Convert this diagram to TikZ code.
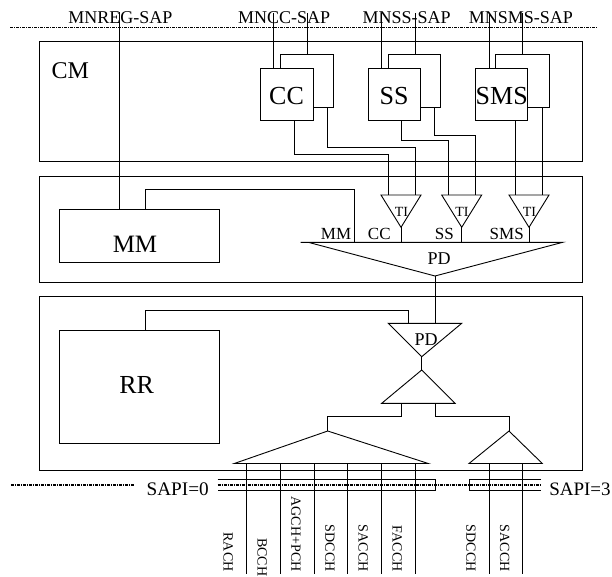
\documentclass[tikz,border=0pt]{standalone}
\usepackage{fontspec}
\setmainfont{Liberation Serif}
\usetikzlibrary{calc}
\newcommand\fs[1]{\fontsize{#1}{#1}\selectfont}
\begin{document}
\begin{tikzpicture}[x=1pt,y=-1pt,line width=0.9pt,
  box/.style={draw, inner sep=0pt, outer sep=0pt, anchor=north west},
  txt/.style={inner sep=0pt, outer sep=0pt},
  sapline/.style={line width=1.1pt, dash pattern=on 3pt off 1pt on 1pt off 1pt},
  big/.style={txt, font=\fs{26}, anchor=base},
  sap/.style={txt, font=\fs{18}, anchor=base},
  lbl/.style={txt, font=\fs{17}, anchor=base},
  ti/.style={txt, font=\fs{14}},
  chl/.style={txt, rotate=-90, font=\fs{14}, anchor=east}]
\useasboundingbox (0,0) rectangle (612,576);

% ---------- top SAP line and labels
\coordinate (topL) at (10,27.3);
\coordinate (topR) at (597,27.3);
\draw[sapline] (topL) -- (topR);
\node[sap] (sREG) at (120.5,23.3) {MNREG-SAP};
\node[sap] (sCC) at (284.2,23.3) {MNCC-SAP};
\node[sap] (sSS) at (406.7,23.3) {MNSS-SAP};
\node[sap] (sSMS) at (520.8,23.3) {MNSMS-SAP};

% ---------- layer boxes
\node[box, minimum width=543.3pt, minimum height=120pt] (CM) at (39,41.7) {};
\node[txt, font=\fs{24}, anchor=base west] (CMl) at (51.7,78.3) {CM};
\node[box, minimum width=543.3pt, minimum height=106.5pt] (L2) at (39,176) {};
\node[box, minimum width=543.3pt, minimum height=174pt] (L3) at (39,296.7) {};

% ---------- CC / SS / SMS entities
\node[box, minimum width=52.6pt, minimum height=53.4pt] (CCb) at (280.7,54.3) {};
\node[box, fill=white, minimum width=52.6pt, minimum height=51.7pt] (CCf) at (260.7,68.3) {};
\node[big] (CCt) at (286.5,104.7) {CC};
\node[box, minimum width=52.6pt, minimum height=53.4pt] (SSb) at (388.3,54.3) {};
\node[box, fill=white, minimum width=52.6pt, minimum height=51.7pt] (SSf) at (368.3,68.3) {};
\node[big] (SSt) at (394,104.7) {SS};
\node[box, minimum width=53.3pt, minimum height=53.4pt] (SMSb) at (495.7,54.3) {};
\node[box, fill=white, minimum width=52pt, minimum height=51.7pt] (SMSf) at (475.7,68.3) {};
\node[big] (SMSt) at (501.7,104.7) {SMS};

% SAP connectors
\coordinate (pREG) at (119,12);
\coordinate (pCC1) at (273.3,13);  \coordinate (pCC2) at (307,13);
\coordinate (pSS1) at (381,13);    \coordinate (pSS2) at (415,13);
\coordinate (pSMS1) at (489,13);   \coordinate (pSMS2) at (522.3,13);
\draw (pCC1) -- (pCC1 |- CCf.north);
\draw (pCC2) -- (pCC2 |- CCb.north);
\draw (pSS1) -- (pSS1 |- SSf.north);
\draw (pSS2) -- (pSS2 |- SSb.north);
\draw (pSMS1) -- (pSMS1 |- SMSf.north);
\draw (pSMS2) -- (pSMS2 |- SMSb.north);

% ---------- TI triangles
\coordinate (tiCC) at (401,227.3);
\coordinate (tiSS) at (461.7,227.3);
\coordinate (tiSMS) at (529,227.3);
\foreach \t in {tiCC,tiSS,tiSMS}{
  \draw (\t) -- ++(-20,-32.3) -- ++(40,0) -- cycle;
}
\node[ti] (lCC) at (401.5,211.7) {TI};
\node[ti] (lSS) at (462,211.7) {TI};
\node[ti] (lSMS) at (529.5,211.7) {TI};
\coordinate (iCC1) at (388.3,195);  \coordinate (iCC2) at (415,195);
\coordinate (iSS1) at (448.3,195);  \coordinate (iSS2) at (475.5,195);
\coordinate (iSMS1) at (515.7,195); \coordinate (iSMS2) at (542.3,195);

% outputs of entities to TI
\draw ([xshift=33.3pt]CCf.south west) -- ++(0,34.3) -| (iCC1);
\draw ([xshift=47pt]CCb.south west) -- ++(0,40) -| (iCC2);
\draw ([xshift=33.4pt]SSf.south west) -- ++(0,20) -| (iSS1);
\draw ([xshift=46pt]SSb.south west) -- ++(0,27.3) -| (iSS2);
\draw (iSMS1 |- SMSf.south) -- (iSMS1);
\draw (iSMS2 |- SMSb.south) -- (iSMS2);

% ---------- PD (upper)
\coordinate (pdL) at (300.7,242.3);
\coordinate (pdR) at (562.7,242.3);
\coordinate (pdS) at (308.3,242.3);
\coordinate (pdA) at (435,276);
\draw (pdL) -- (pdR) -- (pdA) -- (pdS);
\node[txt, font=\fs{18}] (pdU) at (439,258.3) {PD};
\foreach \t in {tiCC,tiSS,tiSMS}{
  \draw (\t) -- (\t |- pdL);
}
\node[lbl] (lMM) at (336,239.3) {MM};
\node[lbl] (lCC2) at (379.3,239.3) {CC};
\node[lbl] (lSS2) at (444.3,239.3) {SS};
\node[lbl] (lSMS2) at (506.7,239.3) {SMS};

% ---------- MM
\node[box, minimum width=160.3pt, minimum height=53pt] (MM) at (59,209.3) {};
\node[txt, font=\fs{25}, anchor=base] (MMt) at (135,252.3) {MM};
\draw (pREG) -- (pREG |- MM.north);
\coordinate (mmIn) at (354,242.3);
\coordinate (mmC) at (145.7,189);
\draw (mmIn) |- (mmC) -- (mmC |- MM.north);

% ---------- RR
\node[box, minimum width=160pt, minimum height=112.6pt] (RR) at (59.3,330.7) {};
\node[txt, font=\fs{26}, anchor=base] (RRt) at (136.7,393.3) {RR};

% lower PD (inverted)
\coordinate (pd2L) at (388.3,323.3);
\coordinate (pd2R) at (461.7,323.3);
\coordinate (pd2A) at (421.7,356.7);
\draw (pd2L) -- (pd2R) -- (pd2A) -- cycle;
\node[txt, font=\fs{18}] (pdLo) at (426,340) {PD};
\draw (pdA) -- (pdA |- pd2L);
\coordinate (rrC) at (145.7,310);
\draw (rrC |- RR.north) -- (rrC) -| (408.3,323.3);

% upward triangle
\coordinate (upA) at (421.7,370);
\coordinate (upL) at (381.7,403.3);
\coordinate (upR) at (455,403.3);
\draw (upA) -- (upR) -- (upL) -- cycle;
\draw (pd2A) -- (upA);

% channel triangles
\coordinate (t0A) at (327.7,431);
\coordinate (t0L) at (234.3,463.5);
\coordinate (t0R) at (428.3,463.5);
\draw (t0A) -- (t0R) -- (t0L) -- cycle;
\coordinate (t3A) at (509,431);
\coordinate (t3L) at (469,463.5);
\coordinate (t3R) at (542.3,463.5);
\draw (t3A) -- (t3R) -- (t3L) -- cycle;
\draw (401,403.3) -- (401,416.7) -| (t0A);
\draw (435,403.3) -- (435,416.7) -| (t3A);

% ---------- SAPI line
\coordinate (s0L) at (10.9,485);
\coordinate (s0R) at (134.7,485);
\draw[sapline] (s0L) -- (s0R);
\node[txt, font=\fs{19.2}, anchor=base west] (sapi0) at (146.7,495) {SAPI=0};
\node[txt, font=\fs{19}, anchor=base west] (sapi3) at (549.3,495) {SAPI=3};
\draw (217.5,479.3) -- (435,479.3) -- (435,490.7) -- (217.5,490.7);
\draw (541,479.3) -- (469.5,479.3) -- (469.5,490.7) -- (541,490.7);
\draw[sapline] (217.5,485) -- (541,485);

% ---------- channels
\foreach \x/\n in {246.7/c1,280.3/c2,314.3/c3,347.7/c4,381.7/c5,415/c6,489/c7,522.3/c8}{
  \coordinate (\n) at (\x,574);
  \draw (\x,463.5) -- (\n);
}
\node[chl] (RACH) at (228.3,571.5) {RACH};
\node[chl, anchor=west] (BCCH) at (262.3,538.3) {BCCH};
\node[chl] (AGCH) at (296,571.5) {AGCH+PCH};
\node[chl] (SDCCH) at (330,571.5) {SDCCH};
\node[chl] (SACCH) at (363.3,571.5) {SACCH};
\node[chl] (FACCH) at (397.3,571.5) {FACCH};
\node[chl] (SDCCH3) at (471,571.5) {SDCCH};
\node[chl] (SACCH3) at (504.7,571.5) {SACCH};
\end{tikzpicture}
\end{document}
